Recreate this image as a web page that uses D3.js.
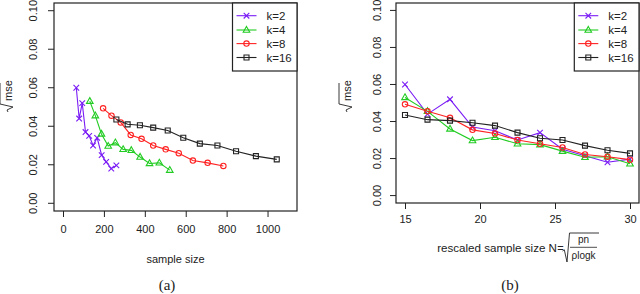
<!DOCTYPE html>
<html><head><meta charset="utf-8">
<script src="https://cdn.jsdelivr.net/npm/d3@7"></script>
<style>body{margin:0;background:#fff}svg{display:block}</style>
</head><body>
<svg id="c" width="640" height="294"></svg>
<script>
// ---- data ----
const seriesNames = ["k=2", "k=4", "k=8", "k=16"];
const rescaledN = [15, 16.5, 18, 19.5, 21, 22.5, 24, 25.5, 27, 28.5, 30];
const sizeK2  = [65, 79, 94, 110, 128, 147, 167, 189, 211, 236, 261];
const sizeK4  = [131, 158, 188, 221, 256, 294, 334, 377, 423, 471, 522];
const sizeK8  = [196, 237, 282, 331, 384, 441, 502, 566, 635, 707, 784];
const sizeK16 = [261, 316, 376, 441, 512, 588, 669, 755, 846, 943, 1045];
const rmseK2  = [0.060, 0.044, 0.052, 0.037, 0.035, 0.030, 0.034, 0.025, 0.0215, 0.018, 0.0197];
const rmseK4  = [0.053, 0.0455, 0.036, 0.0297, 0.0315, 0.028, 0.0275, 0.024, 0.0207, 0.021, 0.0172];
const rmseK8  = [0.0493, 0.0455, 0.042, 0.0355, 0.0335, 0.030, 0.028, 0.026, 0.0222, 0.021, 0.0194];
const rmseK16 = [0.0435, 0.041, 0.0405, 0.0393, 0.0378, 0.034, 0.031, 0.030, 0.027, 0.0245, 0.0228];
const yTicks = [0, 0.02, 0.04, 0.06, 0.08, 0.10];
const xTicksA = [0, 200, 400, 600, 800, 1000];
const xTicksB = [15, 20, 25, 30];

const colors = ["#7a1cf5", "#22cc22", "#ff2222", "#222222"];
const markers = ["x", "tri", "circle", "square"];
const sizes = [sizeK2, sizeK4, sizeK8, sizeK16];
const rmses = [rmseK2, rmseK4, rmseK8, rmseK16];

const svg = d3.select("#c");
const FONT = "'Liberation Sans', Arial, Helvetica, sans-serif";

function markerPath(type) {
  const p = d3.path();
  if (type === "x") { const s = 2.8; p.moveTo(-s,-s); p.lineTo(s,s); p.moveTo(-s,s); p.lineTo(s,-s); }
  else if (type === "tri") { p.moveTo(0,-3.6); p.lineTo(3.3,2.2); p.lineTo(-3.3,2.2); p.closePath(); }
  else if (type === "circle") { p.arc(0,0,2.7,0,2*Math.PI); p.closePath(); }
  else { const s = 2.5; p.rect(-s,-s,2*s,2*s); }
  return p.toString();
}

function panel(opt) {
  const g = svg.append("g");
  const x = d3.scaleLinear().domain(opt.xDom).range([opt.left, opt.right]);
  const y = d3.scaleLinear().domain([-0.004, 0.104]).range([opt.bottom, opt.top]);

  // axes
  const ya = g.append("g").attr("transform", `translate(${opt.left},0)`)
    .call(d3.axisLeft(y).tickValues(yTicks).tickFormat(d3.format(".2f")).tickSize(6).tickPadding(0));
  ya.select(".domain").remove();
  ya.selectAll("line").attr("stroke", "#222");
  ya.selectAll("text")
    .attr("x", 0).attr("y", 0)
    .attr("transform", d => `translate(${opt.yLabX - opt.left},${y(d)}) rotate(-90)`)
    .attr("text-anchor", "middle").attr("dy", "0.35em")
    .attr("font-family", FONT).attr("font-size", 11).attr("fill", "#222");
  ya.selectAll(".tick").attr("transform", null);
  ya.selectAll(".tick line").attr("transform", d => `translate(0,${y(d)})`);

  const xa = g.append("g").attr("transform", `translate(0,${opt.bottom})`)
    .call(d3.axisBottom(x).tickValues(opt.xTicks).tickFormat(d3.format("d")).tickSize(6).tickPadding(opt.xPad));
  xa.select(".domain").remove();
  xa.selectAll("line").attr("stroke", "#222");
  xa.selectAll("text").attr("font-family", FONT).attr("font-size", 11).attr("fill", "#222");

  // frame
  g.append("rect").attr("x", opt.left).attr("y", opt.top)
    .attr("width", opt.right - opt.left).attr("height", opt.bottom - opt.top)
    .attr("fill", "none").attr("stroke", "#222").attr("stroke-width", 1.2);

  // series
  seriesNames.forEach((name, i) => {
    const xs = opt.xsOf(i), ys = rmses[i];
    const pts = ys.map((v, j) => [x(xs[j]), y(v)]);
    g.append("path").attr("d", d3.line()(pts)).attr("fill", "none")
      .attr("stroke", colors[i]).attr("stroke-width", 1.1);
    g.selectAll(null).data(pts).enter().append("path")
      .attr("transform", d => `translate(${d[0]},${d[1]})`)
      .attr("d", markerPath(markers[i])).attr("fill", "none")
      .attr("stroke", colors[i]).attr("stroke-width", 1.1);
  });

  // legend
  const lg = g.append("g");
  lg.append("rect").attr("x", opt.legX).attr("y", opt.top)
    .attr("width", opt.right - opt.legX).attr("height", 68)
    .attr("fill", "#fff").attr("stroke", "#222").attr("stroke-width", 1.2);
  const rowY = [15.7, 30, 43.6, 57.5];
  seriesNames.forEach((name, i) => {
    const ly = rowY[i];
    lg.append("line").attr("x1", opt.legX + 4).attr("x2", opt.legX + 24)
      .attr("y1", ly).attr("y2", ly).attr("stroke", colors[i]).attr("stroke-width", 1.1);
    lg.append("path").attr("transform", `translate(${opt.legX + 14},${ly})`)
      .attr("d", markerPath(markers[i])).attr("fill", "none")
      .attr("stroke", colors[i]).attr("stroke-width", 1.1);
    lg.append("text").attr("x", opt.legX + opt.legTextDx).attr("y", ly).attr("dy", "0.35em")
      .attr("font-family", FONT).attr("font-size", 11.5).attr("fill", "#222").text(name);
  });

  // y label sqrt(mse)
  const yl = g.append("g").attr("transform", `translate(${opt.sqrtX},${103}) rotate(-90)`);
  yl.append("text").attr("x", 2).attr("y", 4).attr("text-anchor", "start")
    .attr("font-family", FONT).attr("font-size", 11).attr("fill", "#222").text("mse");
  yl.append("path").attr("d", "M-9,0 L-7,-1 L-4,5 L-1,-8 L20,-8")
    .attr("fill", "none").attr("stroke", "#222").attr("stroke-width", 0.9);
  return g;
}

panel({
  left: 54, right: 297, top: 3, bottom: 211, xDom: [-44, 1144], xTicks: xTicksA, xPad: 8,
  yLabX: 33, legX: 232.5, legTextDx: 34, sqrtX: 8,
  xsOf: i => sizes[i]
});
panel({
  left: 396, right: 639, top: 3, bottom: 203, xDom: [14.4, 30.6], xTicks: xTicksB, xPad: 6,
  yLabX: 377, legX: 574.3, legTextDx: 34, sqrtX: 347,
  xsOf: i => rescaledN
});

// x labels
svg.append("text").attr("x", 175.5).attr("y", 263).attr("text-anchor", "middle")
  .attr("font-family", FONT).attr("font-size", 11).attr("fill", "#222").text("sample size");
svg.append("text").attr("x", 557).attr("y", 252).attr("text-anchor", "end")
  .attr("font-family", FONT).attr("font-size", 11.6).attr("fill", "#222").text("rescaled sample size N");
svg.append("text").attr("x", 560.5).attr("y", 252).attr("text-anchor", "middle")
  .attr("font-family", FONT).attr("font-size", 11).attr("fill", "#222").text("=");
svg.append("path").attr("d", "M562.5,251 L564.3,249.8 L567,262 L569.5,233 L599,233")
  .attr("fill", "none").attr("stroke", "#222").attr("stroke-width", 0.9);
svg.append("text").attr("x", 583.5).attr("y", 243).attr("text-anchor", "middle")
  .attr("font-family", FONT).attr("font-size", 10).attr("fill", "#222").text("pn");
svg.append("line").attr("x1", 570).attr("x2", 597).attr("y1", 247.3).attr("y2", 247.3)
  .attr("stroke", "#222").attr("stroke-width", 0.8);
svg.append("text").attr("x", 583.5).attr("y", 258.5).attr("text-anchor", "middle")
  .attr("font-family", FONT).attr("font-size", 10).attr("fill", "#222").text("ρlogk");

// captions
svg.append("text").attr("x", 167).attr("y", 290).attr("text-anchor", "middle")
  .attr("font-family", "'Liberation Serif', 'DejaVu Serif', serif").attr("font-size", 15).attr("fill", "#222").text("(a)");
svg.append("text").attr("x", 510).attr("y", 290).attr("text-anchor", "middle")
  .attr("font-family", "'Liberation Serif', 'DejaVu Serif', serif").attr("font-size", 15).attr("fill", "#222").text("(b)");
</script>
</body></html>
